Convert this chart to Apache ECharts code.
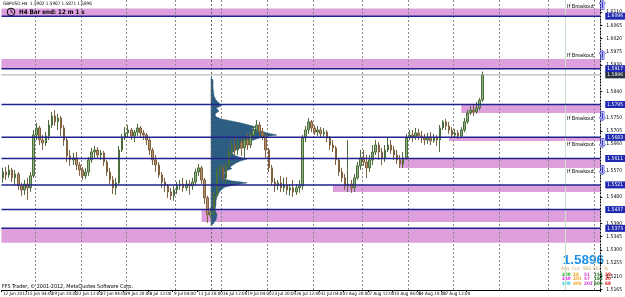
<!DOCTYPE html>
<html><head><meta charset="utf-8">
<script src="https://cdn.jsdelivr.net/npm/echarts@6/dist/echarts.min.js"></script>
<style>html,body{margin:0;padding:0;background:#fff}#c{width:625px;height:297px}</style>
</head><body><div id="c"></div>
<script>
const xLabels = ["12 Jun 2012","15 Jun 04:00","19 Jun 20:00","22 Jun 12:00","27 Jun 04:00","29 Jun 20:00","4 Jul 12:00","9 Jul 04:00","11 Jul 20:00","16 Jul 12:00","19 Jul 04:00","23 Jul 20:00","26 Jul 12:00","31 Jul 04:00","2 Aug 20:00","7 Aug 12:00","10 Aug 04:00","14 Aug 20:00","17 Aug 12:00","22 Aug 04:00"];
// [open, close, low, high]
const candles = [
[1.5545,1.5565,1.5528,1.5579],[1.5565,1.5555,1.5538,1.5582],[1.5555,1.5572,1.5545,1.5589],[1.5572,1.5545,1.5531,1.5579],
[1.5545,1.5558,1.5521,1.5572],[1.5558,1.5518,1.5504,1.5565],[1.5518,1.5504,1.5484,1.5528],[1.5504,1.5524,1.5487,1.5538],
[1.5524,1.5511,1.5470,1.5545],[1.5511,1.5552,1.5497,1.5565],[1.5552,1.5691,1.5545,1.5708],[1.5691,1.5715,1.5674,1.5732],
[1.5715,1.5674,1.5657,1.5722],[1.5674,1.5664,1.5640,1.5691],[1.5664,1.5688,1.5654,1.5701],[1.5688,1.5725,1.5674,1.5742],
[1.5725,1.5756,1.5715,1.5770],[1.5756,1.5736,1.5722,1.5776],[1.5736,1.5749,1.5708,1.5763],[1.5749,1.5715,1.5688,1.5756],
[1.5715,1.5674,1.5654,1.5725],[1.5674,1.5620,1.5599,1.5681],[1.5620,1.5606,1.5586,1.5640],[1.5606,1.5613,1.5589,1.5630],
[1.5613,1.5589,1.5572,1.5633],[1.5589,1.5572,1.5552,1.5599],[1.5572,1.5552,1.5538,1.5582],[1.5552,1.5565,1.5541,1.5579],
[1.5565,1.5606,1.5552,1.5616],[1.5606,1.5633,1.5596,1.5647],[1.5633,1.5640,1.5613,1.5654],[1.5640,1.5623,1.5613,1.5650],
[1.5623,1.5630,1.5606,1.5640],[1.5630,1.5599,1.5586,1.5637],[1.5599,1.5565,1.5552,1.5606],[1.5565,1.5538,1.5524,1.5579],
[1.5538,1.5511,1.5490,1.5552],[1.5511,1.5528,1.5487,1.5545],[1.5528,1.5640,1.5521,1.5654],[1.5640,1.5681,1.5633,1.5695],
[1.5681,1.5698,1.5674,1.5718],[1.5698,1.5708,1.5684,1.5725],[1.5708,1.5688,1.5674,1.5715],[1.5688,1.5701,1.5667,1.5708],
[1.5701,1.5715,1.5688,1.5729],[1.5715,1.5698,1.5684,1.5722],[1.5698,1.5691,1.5674,1.5708],[1.5691,1.5674,1.5657,1.5698],
[1.5674,1.5640,1.5623,1.5681],[1.5640,1.5606,1.5589,1.5647],[1.5606,1.5589,1.5565,1.5623],[1.5589,1.5555,1.5545,1.5599],
[1.5555,1.5531,1.5511,1.5565],[1.5531,1.5518,1.5497,1.5545],[1.5518,1.5497,1.5477,1.5524],[1.5497,1.5484,1.5470,1.5511],
[1.5484,1.5504,1.5467,1.5518],[1.5504,1.5518,1.5490,1.5531],[1.5518,1.5524,1.5504,1.5538],[1.5524,1.5511,1.5497,1.5545],
[1.5511,1.5524,1.5501,1.5538],[1.5524,1.5518,1.5487,1.5538],[1.5518,1.5531,1.5504,1.5545],[1.5531,1.5565,1.5518,1.5576],
[1.5565,1.5579,1.5552,1.5592],[1.5579,1.5538,1.5524,1.5586],[1.5538,1.5477,1.5456,1.5545],[1.5477,1.5419,1.5392,1.5484],
[1.5419,1.5429,1.5409,1.5443],[1.5429,1.5487,1.5419,1.5497],[1.5487,1.5565,1.5477,1.5579],[1.5565,1.5579,1.5545,1.5592],
[1.5579,1.5545,1.5531,1.5589],[1.5545,1.5589,1.5521,1.5599],[1.5589,1.5633,1.5579,1.5647],[1.5633,1.5657,1.5623,1.5674],
[1.5657,1.5640,1.5620,1.5681],[1.5640,1.5667,1.5623,1.5681],[1.5667,1.5647,1.5620,1.5678],[1.5647,1.5674,1.5613,1.5688],
[1.5674,1.5657,1.5640,1.5695],[1.5657,1.5691,1.5647,1.5701],[1.5691,1.5708,1.5681,1.5722],[1.5708,1.5725,1.5698,1.5742],
[1.5725,1.5701,1.5688,1.5736],[1.5701,1.5688,1.5674,1.5715],[1.5688,1.5640,1.5613,1.5695],[1.5640,1.5579,1.5565,1.5647],
[1.5579,1.5531,1.5518,1.5589],[1.5531,1.5518,1.5497,1.5545],[1.5518,1.5528,1.5504,1.5538],[1.5528,1.5511,1.5497,1.5552],
[1.5511,1.5521,1.5497,1.5545],[1.5521,1.5504,1.5487,1.5548],[1.5504,1.5511,1.5484,1.5524],[1.5511,1.5497,1.5480,1.5538],
[1.5497,1.5511,1.5487,1.5524],[1.5511,1.5518,1.5494,1.5538],[1.5518,1.5681,1.5504,1.5691],[1.5681,1.5708,1.5667,1.5722],
[1.5708,1.5736,1.5695,1.5749],[1.5736,1.5715,1.5701,1.5742],[1.5715,1.5701,1.5691,1.5725],[1.5701,1.5708,1.5688,1.5722],
[1.5708,1.5695,1.5681,1.5718],[1.5695,1.5701,1.5681,1.5715],[1.5701,1.5681,1.5667,1.5708],[1.5681,1.5657,1.5640,1.5688],
[1.5657,1.5647,1.5633,1.5674],[1.5647,1.5606,1.5589,1.5654],[1.5606,1.5565,1.5552,1.5613],[1.5565,1.5545,1.5531,1.5579],
[1.5545,1.5518,1.5504,1.5558],[1.5518,1.5524,1.5497,1.5674],[1.5524,1.5511,1.5494,1.5538],[1.5511,1.5545,1.5497,1.5558],
[1.5545,1.5586,1.5538,1.5599],[1.5586,1.5613,1.5572,1.5640],[1.5613,1.5599,1.5586,1.5640],[1.5599,1.5579,1.5545,1.5623],
[1.5579,1.5606,1.5565,1.5623],[1.5606,1.5633,1.5589,1.5657],[1.5633,1.5657,1.5623,1.5674],[1.5657,1.5633,1.5606,1.5667],
[1.5633,1.5613,1.5589,1.5647],[1.5613,1.5640,1.5599,1.5657],[1.5640,1.5657,1.5633,1.5681],[1.5657,1.5640,1.5627,1.5674],
[1.5640,1.5623,1.5606,1.5654],[1.5623,1.5606,1.5592,1.5640],[1.5606,1.5592,1.5579,1.5623],[1.5592,1.5613,1.5579,1.5633],
[1.5613,1.5681,1.5606,1.5695],[1.5681,1.5691,1.5674,1.5708],[1.5691,1.5684,1.5667,1.5708],[1.5684,1.5698,1.5674,1.5715],
[1.5698,1.5688,1.5674,1.5712],[1.5688,1.5681,1.5664,1.5705],[1.5681,1.5674,1.5657,1.5695],[1.5674,1.5684,1.5661,1.5698],
[1.5684,1.5671,1.5657,1.5701],[1.5671,1.5681,1.5664,1.5695],[1.5681,1.5674,1.5654,1.5691],[1.5674,1.5715,1.5633,1.5725],
[1.5715,1.5736,1.5708,1.5742],[1.5736,1.5722,1.5708,1.5746],[1.5722,1.5708,1.5695,1.5736],[1.5708,1.5691,1.5681,1.5718],
[1.5691,1.5698,1.5681,1.5712],[1.5698,1.5688,1.5678,1.5708],[1.5688,1.5708,1.5681,1.5718],[1.5708,1.5736,1.5701,1.5749],
[1.5736,1.5766,1.5729,1.5776],[1.5766,1.5776,1.5759,1.5790],[1.5776,1.5770,1.5756,1.5797],[1.5770,1.5783,1.5763,1.5804],
[1.5783,1.5810,1.5776,1.5817],[1.5810,1.5896,1.5804,1.5907]
];
const levels = [1.6096, 1.5917, 1.5795, 1.5683, 1.5611, 1.5521, 1.5437, 1.5373];
const currentPrice = 1.5896;
// [start bar (-1 = whole chart), low, high]
const zones = [
  [-1, 1.6096, 1.6122],
  [-1, 1.5917, 1.5950],
  [150, 1.5766, 1.5795],
  [146, 1.5671, 1.5683],
  [130, 1.5579, 1.5611],
  [108, 1.5497, 1.5521],
  [65, 1.5395, 1.5437],
  [-1, 1.5324, 1.5373]
];
const yTicks = [1.6110,1.6065,1.6020,1.5975,1.5930,1.5840,1.5750,1.5705,1.5660,1.5570,1.5480,1.5390,1.5345,1.5300,1.5255,1.5210,1.5165];
const profilePrices = [1.5885,1.5879,1.5851,1.5824,1.5810,1.5800,1.5790,1.5783,1.5773,1.5763,1.5753,1.5746,1.5739,1.5732,1.5725,1.5718,1.5712,1.5705,1.5698,1.5691,1.5684,1.5678,1.5671,1.5664,1.5657,1.5650,1.5644,1.5637,1.5630,1.5623,1.5616,1.5609,1.5603,1.5596,1.5589,1.5582,1.5576,1.5569,1.5562,1.5552,1.5541,1.5535,1.5528,1.5521,1.5514,1.5504,1.5494,1.5480,1.5467,1.5453,1.5436,1.5419,1.5402,1.5388,1.5381];
const profileVols = [0,20,20,30,50,80,100,50,80,40,50,100,200,300,380,450,400,500,560,660,520,460,400,360,310,340,270,240,210,230,280,360,300,250,220,190,210,150,130,160,130,200,360,240,140,100,80,60,50,50,40,60,50,20,0];
const profileStartBar = 68;
const timeMarkerBar = 184;
const tableHeader = ['Avg', 'Cur', 'S01', 'S03', '%'];
const tableCols = [['400','240','400'], ['26','201','405'], ['51','57','203'], ['153','163','609'], ['28','30','68']];
const yMin = 1.5163, yMax = 1.6151;
const totalSlots = 196, barsPerLabel = 8;

const categories = Array.from({length: totalSlots}, (_, i) =>
  (i % barsPerLabel === 0 && i / barsPerLabel < xLabels.length) ? xLabels[i / barsPerLabel] : ('#' + i));
const isLabel = (i) => i % barsPerLabel === 0 && i / barsPerLabel < xLabels.length;
const gridSet = new Set([11,26,41,57,72,87,102,118,133,148,163,179,194]);
const FONT = 'Liberation Sans, Arial, sans-serif';
const NARROW = '"Liberation Sans Narrow", "Arial Narrow", "DejaVu Sans Condensed", sans-serif';
const navy = '#22228e';

const chart = echarts.init(document.getElementById('c'), null, {renderer: 'canvas'});

const colX = [561, 572, 583, 593, 604];
const colColors = [['#20b020','#e020e0','#20c8e0'], ['#f0a020','#f0a020','#f0a020'], ['#d040d0','#d040d0','#d040d0'], ['#207020','#207020','#207020'], ['#e02020','#e02020','#e02020']];
const tableGraphics = [];
tableHeader.forEach((h, c) => tableGraphics.push({type: 'text', left: colX[c], top: 266, style: {text: h, fontSize: 4.8, fill: '#c8a050', fontFamily: NARROW}}));
tableCols.forEach((col, c) => col.forEach((t, r) => tableGraphics.push({type: 'text', left: colX[c] + 1, top: 272 + r * 4.6, style: {text: t, fontSize: 4.6, fontWeight: 'bold', fill: colColors[c][r], fontFamily: NARROW}})));

const breakoutY = [3.5, 52.5, 115.5, 141.5, 168.5];
const arrowDefs = [['⇧', 0], ['⇧', 50], ['⇩', 111], ['⇩', 138], ['⇩', 165]];

const option = {
  animation: false,
  backgroundColor: '#fff',
  grid: [
    {left: 0, right: 21, top: 0, bottom: 7, containLabel: false},
    {left: 211, right: 21, top: 0, bottom: 7, containLabel: false}
  ],
  xAxis: [{
    type: 'category', data: categories, boundaryGap: true, gridIndex: 0,
    axisLine: {show: true, lineStyle: {color: '#000', width: 1}},
    axisTick: {show: true, length: 2, interval: (i) => isLabel(i), lineStyle: {color: '#000'}},
    axisLabel: {interval: (i) => isLabel(i), showMinLabel: true, showMaxLabel: false, hideOverlap: false,
      fontSize: 4.5, color: '#000', align: 'left', margin: 1.5, fontFamily: NARROW},
    splitLine: {show: true, interval: (i) => gridSet.has(i), lineStyle: {color: '#8a8a8a', width: 1, type: [2, 2]}}
  }, {
    type: 'value', gridIndex: 1, min: 0, max: 3940, show: false
  }],
  yAxis: [{
    type: 'value', position: 'right', min: yMin, max: yMax, gridIndex: 0,
    axisLine: {show: true, lineStyle: {color: '#000', width: 1, type: [1, 2]}},
    axisTick: {show: true, length: 2, customValues: yTicks, lineStyle: {color: '#000'}},
    axisLabel: {customValues: yTicks, formatter: v => v.toFixed(4), fontSize: 5, color: '#000', margin: 6, fontFamily: NARROW},
    splitLine: {show: false}
  }, {
    type: 'value', gridIndex: 1, min: yMin, max: yMax, show: false
  }],
  series: [
    { // pink zones
      type: 'custom', xAxisIndex: 0, yAxisIndex: 0, z: -1, silent: true,
      data: zones.map(z => [Math.max(z[0], 0), z[1], z[2]]),
      renderItem: (params, api) => {
        const cs = params.coordSys;
        const z = zones[params.dataIndex];
        const top = api.coord([0, z[2]])[1];
        const bot = api.coord([0, z[1]])[1];
        const x0 = z[0] < 0 ? cs.x : api.coord([z[0], z[1]])[0];
        return {type: 'rect', shape: {x: x0, y: top, width: cs.x + cs.width - x0, height: bot - top}, style: {fill: '#dda0dd'}};
      }
    },
    { // volume profile
      type: 'custom', xAxisIndex: 1, yAxisIndex: 1, z: 1, silent: true,
      data: [[0, profilePrices[0]]],
      renderItem: (params, api) => {
        const pts = [api.coord([0, profilePrices[0]])];
        profilePrices.forEach((p, k) => pts.push(api.coord([profileVols[k], p])));
        pts.push(api.coord([0, profilePrices[profilePrices.length - 1]]));
        return {type: 'polygon', shape: {points: pts}, style: {fill: '#2d5d82', stroke: '#24506f', lineWidth: 0.5}};
      }
    },
    {
      type: 'candlestick', data: candles, xAxisIndex: 0, yAxisIndex: 0, z: 2, barWidth: 2,
      itemStyle: {color: '#8fb07f', color0: '#b3936a', borderColor: '#4c6e3c', borderColor0: '#80603e', borderWidth: 1}
    },
    { // vertical markers
      type: 'custom', xAxisIndex: 0, yAxisIndex: 0, z: 3, silent: true,
      data: [[profileStartBar, yMin], [timeMarkerBar, yMin]],
      renderItem: (params, api) => {
        const cs = params.coordSys;
        const x = Math.round(api.coord([api.value(0), yMin])[0]) + 0.5;
        const st = params.dataIndex === 0 ? {stroke: '#666', lineWidth: 1, lineDash: [2, 2]} : {stroke: '#c9e2c9', lineWidth: 1};
        return {type: 'line', shape: {x1: x, y1: cs.y, x2: x, y2: cs.y + cs.height}, style: st};
      }
    },
    { // horizontal levels + current price
      type: 'custom', xAxisIndex: 0, yAxisIndex: 0, z: 4, silent: true,
      data: [[0, currentPrice]].concat(levels.map(v => [0, v])),
      renderItem: (params, api) => {
        const cs = params.coordSys;
        const v = api.value(1);
        const y = api.coord([0, v])[1];
        const isCur = params.dataIndex === 0;
        return {type: 'group', children: [
          {type: 'line', shape: {x1: cs.x, y1: y, x2: cs.x + cs.width, y2: y},
           style: isCur ? {stroke: '#a8a8a8', lineWidth: 1} : {stroke: navy, lineWidth: 1.5}},
          {type: 'text', x: cs.x + cs.width + 5, y: y, z2: 10,
           style: {text: v.toFixed(4), fill: '#fff', backgroundColor: isCur ? '#27313b' : '#1f2ab0',
             fontSize: 5, fontFamily: NARROW, padding: [1, 2], verticalAlign: 'middle', align: 'left'}}
        ]};
      }
    }
  ],
  graphic: [
    {type: 'text', left: 3, top: 1, style: {text: 'GBPUSD,H4  1.5902 1.5907 1.5871 1.5896', fontSize: 4.6, fill: '#000', fontFamily: NARROW}},
    {type: 'circle', shape: {cx: 11, cy: 12, r: 3.8}, style: {fill: 'none', stroke: '#000', lineWidth: 1}},
    {type: 'polyline', shape: {points: [[11, 9.5], [11, 12], [13, 13]]}, style: {stroke: '#000', lineWidth: 0.8, fill: 'none'}},
    {type: 'text', left: 19, top: 9, style: {text: 'H4 Bar end: 12 m 1 s', fontSize: 6.2, fontWeight: 'bold', fill: '#000', fontFamily: NARROW}},
    {type: 'text', left: 2, top: 284, style: {text: 'FFS Trader, © 2001-2012, MetaQuotes Software Corp.', fontSize: 5.4, fill: '#000', fontFamily: NARROW}},
    {type: 'text', right: 21, top: 253, style: {text: '1.5896', fontSize: 13.5, fontWeight: 'bold', fill: '#1e90e8', fontFamily: FONT}}
  ].concat(breakoutY.map(t => ({type: 'text', left: 567, top: t, style: {text: 'If Breakout', fontSize: 5.5, fill: '#000', fontFamily: NARROW}})))
   .concat(arrowDefs.map(a => ({type: 'text', left: 597, top: a[1], z: 10, style: {text: a[0], fontSize: 11, fill: '#ffffff', stroke: '#3c3cd0', lineWidth: 1.4, fontFamily: 'DejaVu Sans'}})))
   .concat(tableGraphics)
};
chart.setOption(option);
</script></body></html>
